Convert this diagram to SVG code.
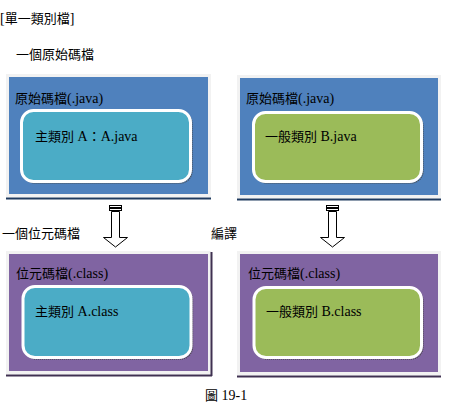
<svg xmlns="http://www.w3.org/2000/svg" width="458" height="414" viewBox="0 0 458 414">
<style>
text{font-family:"Liberation Serif","Noto Sans CJK TC",serif;font-size:14px;fill:#000}
.cjk{font-size:13px}
.frame{stroke:#f2f2f2;stroke-width:3}
.blue{fill:#4f81bd}
.purple{fill:#8064a2}
.teal{fill:#4bacc6}
.green{fill:#9bbb59}
.inner{stroke:#ffffff;stroke-width:3}
.shadow{fill:none;stroke:#4a4a4a;stroke-width:1.5;stroke-dasharray:1 1}
.sh1{stroke:#1f3a5f;stroke-width:2}
.sh2{stroke:#3f3151;stroke-width:2}
.arrow{fill:#fff;stroke:#000;stroke-width:1}
</style>
<rect width="458" height="414" fill="#fff"/>
<g id="labels">
<text x="0" y="23">[<tspan class="cjk">單一類別檔</tspan>]</text>
<text x="16" y="59" class="cjk">一個原始碼檔</text>
<text x="2" y="238" class="cjk">一個位元碼檔</text>
<text x="211" y="238" class="cjk">編譯</text>
<text x="205" y="400"><tspan class="cjk">圖</tspan> 19-1</text>
</g>
<g id="nodeA-java">
<rect class="frame blue" x="7.5" y="75.5" width="202" height="120"/>
<line class="sh1" x1="6" y1="198.5" x2="211" y2="198.5"/>
<text x="15" y="103"><tspan class="cjk">原始碼檔</tspan>(.java)</text>
<rect class="shadow" x="23" y="112" width="169" height="71" rx="12"/>
<rect class="inner teal" x="21.5" y="110.5" width="169" height="71" rx="12"/>
<text x="35" y="141"><tspan class="cjk">主類別</tspan> A<tspan class="cjk">：</tspan>A.java</text>
</g>
<g id="nodeB-java">
<rect class="frame blue" x="238.5" y="76.5" width="201" height="120"/>
<line class="sh1" x1="237" y1="199.5" x2="441" y2="199.5"/>
<text x="246" y="103"><tspan class="cjk">原始碼檔</tspan>(.java)</text>
<rect class="shadow" x="255" y="114" width="168" height="69" rx="12"/>
<rect class="inner green" x="253.5" y="112.5" width="168" height="69" rx="12"/>
<text x="265" y="141"><tspan class="cjk">一般類別</tspan> B.java</text>
</g>
<g id="nodeA-class">
<rect class="frame purple" x="7.5" y="252.5" width="202" height="120"/>
<line class="sh2" x1="6" y1="375.5" x2="212" y2="375.5"/>
<line class="sh2" x1="211.5" y1="252" x2="211.5" y2="376"/>
<text x="16" y="278"><tspan class="cjk">位元碼檔</tspan>(.class)</text>
<rect class="shadow" x="24.5" y="288" width="168" height="71" rx="12"/>
<rect class="inner teal" x="23" y="286.5" width="168" height="71" rx="12"/>
<text x="35" y="316"><tspan class="cjk">主類別</tspan> A.class</text>
</g>
<g id="nodeB-class">
<rect class="frame purple" x="238.5" y="252.5" width="201" height="121"/>
<line class="sh2" x1="237" y1="376.5" x2="441" y2="376.5"/>
<text x="248" y="278"><tspan class="cjk">位元碼檔</tspan>(.class)</text>
<rect class="shadow" x="255.5" y="289" width="167.5" height="70" rx="12"/>
<rect class="inner green" x="254" y="287.5" width="167.5" height="70" rx="12"/>
<text x="266" y="316"><tspan class="cjk">一般類別</tspan> B.class</text>
</g>
<g id="connectors">
<rect class="arrow" x="109.5" y="205.5" width="12" height="2"/>
<rect class="arrow" x="109.5" y="208.5" width="12" height="2"/>
<path class="arrow" d="M111.5,211.5 L119.5,211.5 L119.5,237.5 L127.5,237.5 L115.5,247 L103.5,237.5 L111.5,237.5 Z"/>
<rect class="arrow" x="326.5" y="205.5" width="12" height="2"/>
<rect class="arrow" x="326.5" y="208.5" width="12" height="2"/>
<path class="arrow" d="M328.5,211.5 L336.5,211.5 L336.5,237.5 L344.5,237.5 L332.5,247 L320.5,237.5 L328.5,237.5 Z"/>
</g>
</svg>
